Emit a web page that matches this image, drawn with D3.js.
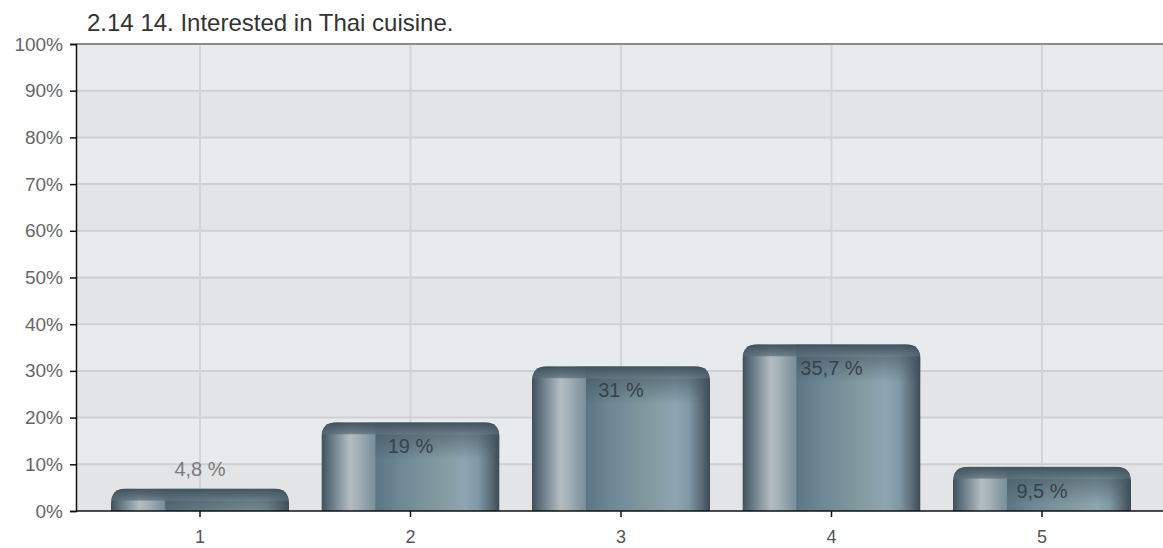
<!DOCTYPE html>
<html>
<head>
<meta charset="utf-8">
<script src="https://cdn.jsdelivr.net/npm/d3@7/dist/d3.min.js"></script>
<style>
  html, body { margin: 0; padding: 0; background: #ffffff; }
  svg { display: block; font-family: "Liberation Sans", Arial, sans-serif; }
</style>
</head>
<body>
<svg id="chart" width="1163" height="548"></svg>
<script>
// Survey answer distribution (scale 1–5), percent of respondents
const title = "2.14 14. Interested in Thai cuisine.";
const categories = ["1", "2", "3", "4", "5"];
const values = [4.8, 19, 31, 35.7, 9.5];
const yTicks = [0, 10, 20, 30, 40, 50, 60, 70, 80, 90, 100];

const W = 1163, H = 548;
const plot = { left: 76, right: 1163, top: 44, bottom: 511 };

const svg = d3.select("#chart");

const y = d3.scaleLinear().domain([0, 100]).range([plot.bottom, plot.top]);
const x = d3.scaleBand()
  .domain(categories)
  .range([94.75, 1147.25])
  .paddingInner(0.154)
  .paddingOuter(0.077);

const fmt = v => String(v).replace(".", ",") + " %";

// ---- gradients ----
const defs = svg.append("defs");
const body = defs.append("linearGradient").attr("id", "barBody")
  .attr("x1", 0).attr("y1", 0).attr("x2", 1).attr("y2", 0);
[
  [0.00, "#3f4f59"], [0.04, "#5b6e79"], [0.10, "#8796a0"], [0.16, "#b3bcc1"],
  [0.21, "#a3afb6"], [0.27, "#8598a3"], [0.30, "#7b909c"], [0.305, "#5d7684"],
  [0.45, "#6e8896"], [0.65, "#82999f"], [0.80, "#8ea5b2"], [0.88, "#8199a6"],
  [0.95, "#5a6d78"], [1.00, "#3c4a53"]
].forEach(([o, c]) => body.append("stop").attr("offset", o).attr("stop-color", c));

const cap = defs.append("linearGradient").attr("id", "barCap")
  .attr("x1", 0).attr("y1", 0).attr("x2", 0).attr("y2", 1);
cap.append("stop").attr("offset", 0).attr("stop-color", "#3e4f59").attr("stop-opacity", 0.95);
cap.append("stop").attr("offset", 0.6).attr("stop-color", "#4f626d").attr("stop-opacity", 0.85);
cap.append("stop").attr("offset", 1).attr("stop-color", "#5a6e79").attr("stop-opacity", 0.7);

const shade = defs.append("linearGradient").attr("id", "barShade")
  .attr("x1", 0).attr("y1", 0).attr("x2", 0).attr("y2", 1);
shade.append("stop").attr("offset", 0).attr("stop-color", "#42535d").attr("stop-opacity", 0.55);
shade.append("stop").attr("offset", 1).attr("stop-color", "#42535d").attr("stop-opacity", 0);

// ---- plot background: alternating bands ----
const bands = d3.range(10);
svg.append("g").selectAll("rect").data(bands).join("rect")
  .attr("x", plot.left)
  .attr("width", plot.right - plot.left)
  .attr("y", i => y(i * 10 + 10))
  .attr("height", i => y(i * 10) - y(i * 10 + 10))
  .attr("fill", i => i % 2 === 1 ? "#e8ebee" : "#e3e4e6");

// horizontal grid
svg.append("g").selectAll("line").data(yTicks.slice(1, -1)).join("line")
  .attr("x1", plot.left).attr("x2", plot.right)
  .attr("y1", d => y(d)).attr("y2", d => y(d))
  .attr("stroke", "#cdcfd1").attr("stroke-width", 2);

// vertical grid at category centres
svg.append("g").selectAll("line").data(categories).join("line")
  .attr("x1", d => x(d) + x.bandwidth() / 2).attr("x2", d => x(d) + x.bandwidth() / 2)
  .attr("y1", plot.top).attr("y2", plot.bottom)
  .attr("stroke", "#d2d4d6").attr("stroke-width", 2);

// top border
svg.append("line")
  .attr("x1", plot.left).attr("x2", plot.right)
  .attr("y1", plot.top).attr("y2", plot.top)
  .attr("stroke", "#8a8c8e").attr("stroke-width", 2);

// ---- bars ----
const r = 15;
function topRounded(x0, yt, w, yb, rad) {
  const rr = Math.min(rad, yb - yt, w / 2);
  return `M${x0},${yb}L${x0},${yt + rr}Q${x0},${yt} ${x0 + rr},${yt}` +
         `L${x0 + w - rr},${yt}Q${x0 + w},${yt} ${x0 + w},${yt + rr}L${x0 + w},${yb}Z`;
}

const data = categories.map((c, i) => ({ c, v: values[i] }));
const bw = x.bandwidth();

defs.selectAll("clipPath").data(data).join("clipPath")
  .attr("id", (d, i) => "clip" + i)
  .append("path")
  .attr("d", d => topRounded(x(d.c), y(d.v), bw, y(0), r));

const barG = svg.append("g").selectAll("g").data(data).join("g")
  .attr("clip-path", (d, i) => `url(#clip${i})`);

barG.append("path")
  .attr("d", d => topRounded(x(d.c), y(d.v), bw, y(0), r))
  .attr("fill", "url(#barBody)");

// darker shading under the cap on the right part of the cylinder
barG.append("rect")
  .attr("x", d => x(d.c) + bw * 0.305)
  .attr("y", d => y(d.v) + 12)
  .attr("width", bw * 0.695)
  .attr("height", 26)
  .attr("fill", "url(#barShade)");

// cap band across the top
barG.append("rect")
  .attr("x", d => x(d.c))
  .attr("y", d => y(d.v))
  .attr("width", bw)
  .attr("height", 12)
  .attr("fill", "url(#barCap)");

// ---- value labels ----
svg.append("g").selectAll("text").data(data).join("text")
  .attr("x", d => x(d.c) + bw / 2)
  .attr("y", d => (y(0) - y(d.v)) > 30 ? y(d.v) + 31 : y(d.v) - 13)
  .attr("text-anchor", "middle")
  .attr("font-size", 20)
  .attr("fill", d => (y(0) - y(d.v)) > 30 ? "#36434c" : "#7a7a7a")
  .text(d => fmt(d.v));

// ---- axes ----
const yAxis = d3.axisLeft(y).tickValues(yTicks).tickFormat(d => d + "%").tickSize(6).tickPadding(7);
const gy = svg.append("g").attr("transform", `translate(${plot.left},0)`).call(yAxis);
gy.select(".domain").attr("stroke", "#111").attr("stroke-width", 1.5);
gy.selectAll(".tick line").attr("stroke", "#111").attr("stroke-width", 1.5);
gy.selectAll(".tick text").attr("font-size", 19).attr("fill", "#666")
  .attr("font-family", "'Liberation Sans', Arial, sans-serif");

const xAxis = d3.axisBottom(x).tickSize(6).tickPadding(13);
const gx = svg.append("g").attr("transform", `translate(0,${plot.bottom})`).call(xAxis);
gx.select(".domain").remove();
gx.append("line").attr("x1", plot.left).attr("x2", plot.right)
  .attr("stroke", "#111").attr("stroke-width", 1.5);
gx.selectAll(".tick line").attr("stroke", "#111").attr("stroke-width", 1.5);
gx.selectAll(".tick text").attr("font-size", 18).attr("fill", "#555")
  .attr("font-family", "'Liberation Sans', Arial, sans-serif");

// ---- title ----
svg.append("text")
  .attr("x", 87).attr("y", 31)
  .attr("font-size", 24)
  .attr("fill", "#333")
  .text(title);
</script>
</body>
</html>
